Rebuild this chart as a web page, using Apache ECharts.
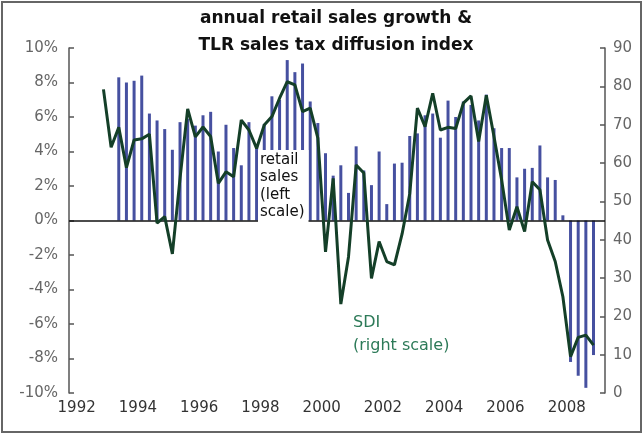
<!DOCTYPE html>
<html>
<head>
<meta charset="utf-8">
<script src="https://cdn.jsdelivr.net/npm/echarts@6/dist/echarts.min.js"></script>
<style>
html,body{margin:0;padding:0;background:#fff;}
#chart{width:644px;height:435px;}
</style>
</head>
<body>
<div id="chart"></div>
<script>
// ---- data ----
const titleLines = ['annual retail sales growth &', 'TLR sales tax diffusion index'];
const xTickYears = [1992, 1994, 1996, 1998, 2000, 2002, 2004, 2006, 2008];
const leftTicks = [-10, -8, -6, -4, -2, 0, 2, 4, 6, 8, 10];
const rightTicks = [0, 10, 20, 30, 40, 50, 60, 70, 80, 90];

// annual retail sales growth (%), quarterly, first quarter = 1993Q2
const retailStart = '1993Q2';
const retailGrowth = [
  8.3, 8.0, 8.1, 8.4, 6.2, 5.8, 5.3, 4.1, 5.7, 5.9,
  5.5, 6.1, 6.3, 4.0, 5.55, 4.2, 3.2, 5.7, 4.3, 5.6,
  7.2, 7.0, 9.3, 8.6, 9.1, 6.9, 5.65, 3.9, 2.6, 3.2,
  1.6, 4.3, 2.9, 2.05, 4.0, 0.95, 3.3, 3.35, 4.9, 5.05,
  6.1, 6.2, 4.8, 6.95, 6.0, 6.9, 6.7, 5.8, 7.3, 5.35,
  4.2, 4.2, 2.5, 3.0, 3.05, 4.35, 2.5, 2.35, 0.3, -8.2,
  -9.0, -9.7, -7.8
];

// sales tax diffusion index, quarterly, first quarter = 1992Q4
const sdiStart = '1992Q4';
const sdiValues = [
  79.2, 64.1, 69.3, 58.8, 66.0, 66.3, 67.5, 44.3, 46.0, 36.3,
  56.0, 74.1, 66.8, 69.4, 66.9, 54.7, 57.7, 56.4, 71.2, 68.6,
  63.8, 69.9, 72.1, 76.9, 81.2, 80.4, 73.4, 74.3, 66.5, 36.8,
  56.0, 23.2, 35.5, 59.5, 57.4, 29.9, 39.5, 34.3, 33.4, 41.5,
  52.0, 74.3, 69.5, 78.2, 68.6, 69.3, 69.0, 75.6, 77.5, 65.6,
  77.7, 66.9, 55.6, 42.5, 48.6, 42.1, 55.1, 53.0, 39.9, 34.3,
  25.1, 9.5, 14.5, 15.1, 12.5
];

// quarter label -> decimal year at middle of quarter
function quarterMid(label, offset) {
  const y = parseInt(label.slice(0, 4), 10);
  const q = parseInt(label.slice(5), 10) - 1 + offset;
  return y + Math.floor(q / 4) + (q % 4) * 0.25 + 0.125;
}
const retailData = retailGrowth.map((v, i) => [quarterMid(retailStart, i), v]);
const sdiData = sdiValues.map((v, i) => [quarterMid(sdiStart, i), v]);

const chart = echarts.init(document.getElementById('chart'), null, {renderer: 'canvas'});
const font = '"DejaVu Sans", Verdana, sans-serif';

chart.setOption({
  animation: false,
  backgroundColor: '#ffffff',
  grid: {left: 69, right: 39, top: 48, bottom: 42, containLabel: false},
  xAxis: {
    type: 'value',
    min: 1991.75,
    max: 2009.25,
    axisLine: {show: false},
    axisTick: {show: false},
    splitLine: {show: false},
    axisLabel: {
      customValues: xTickYears,
      formatter: v => String(Math.round(v)),
      color: '#333', fontSize: 15, fontFamily: font, margin: 8
    }
  },
  yAxis: [
    {
      type: 'value', min: -10, max: 10, interval: 2, position: 'left',
      axisLine: {show: true, lineStyle: {color: '#555', width: 1.5}},
      axisTick: {show: true, inside: true, length: 5, lineStyle: {color: '#555', width: 1.5}},
      splitLine: {show: false},
      axisLabel: {formatter: '{value}%', color: '#666', fontSize: 15, fontFamily: font, margin: 11}
    },
    {
      type: 'value', min: 0, max: 90, interval: 10, position: 'right',
      axisLine: {show: true, lineStyle: {color: '#555', width: 1.5}},
      axisTick: {show: true, inside: true, length: 5, lineStyle: {color: '#555', width: 1.5}},
      splitLine: {show: false},
      axisLabel: {color: '#666', fontSize: 15, fontFamily: font, margin: 8}
    }
  ],
  series: [
    {
      name: 'retail sales',
      type: 'bar',
      yAxisIndex: 0,
      data: retailData,
      barWidth: 3,
      itemStyle: {color: '#4650a0'},
      z: 2,
      markLine: {
        silent: true, symbol: 'none', label: {show: false},
        lineStyle: {color: '#111', width: 1.5, type: 'solid'},
        data: [{yAxis: 0}]
      }
    },
    {
      name: 'SDI',
      type: 'line',
      yAxisIndex: 1,
      data: sdiData,
      symbol: 'none',
      lineStyle: {color: '#143f28', width: 3},
      z: 5
    }
  ],
  graphic: [
    {type: 'rect', z: 0, silent: true,
     shape: {x: 2, y: 2, width: 639, height: 430},
     style: {fill: 'none', stroke: '#666', lineWidth: 2}},
    {type: 'text', z: 100, x: 336, y: 5,
     style: {text: titleLines.join('\n'), font: 'bold 17px ' + font, fill: '#111',
             align: 'center', textAlign: 'center', lineHeight: 27}},
    {type: 'text', z: 100, left: 258, top: 150,
     style: {text: 'retail\nsales\n(left\nscale)', font: '15px ' + font, fill: '#111',
             lineHeight: 17.5, backgroundColor: '#fff', padding: [1, 4, 2, 2]}},
    {type: 'text', z: 100, left: 353, top: 311,
     style: {text: 'SDI\n(right scale)', font: '16px ' + font, fill: '#2d7a58', lineHeight: 23}}
  ]
});
</script>
</body>
</html>
